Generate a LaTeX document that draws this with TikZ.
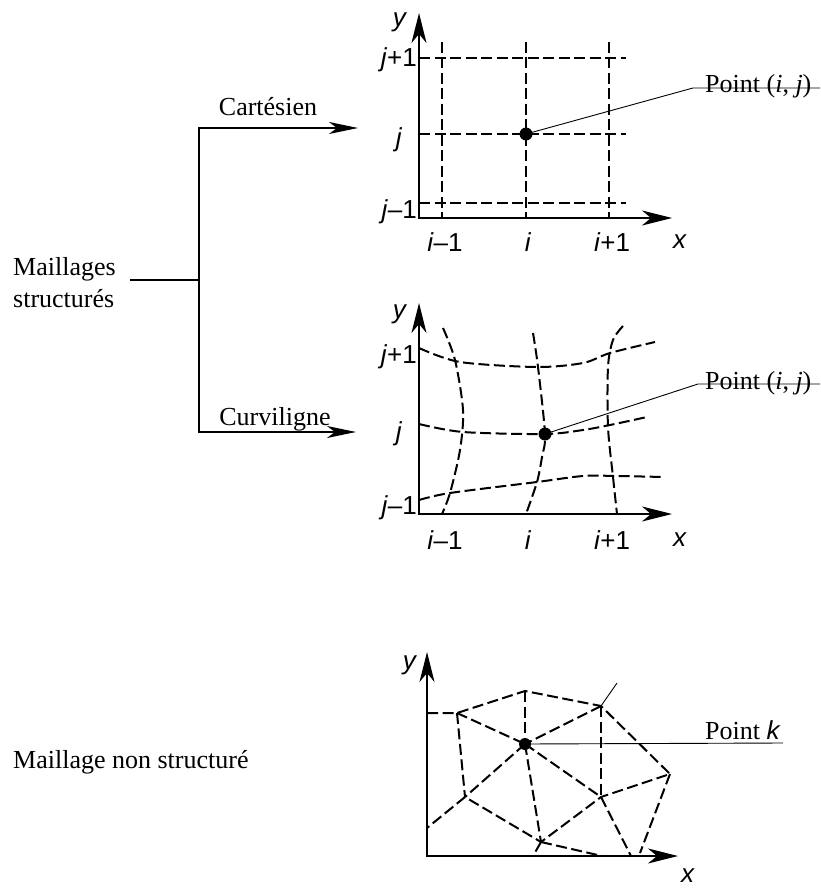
\documentclass[tikz,border=0pt]{standalone}
\usepackage{fontspec}
\setmainfont{Liberation Serif}
\newfontfamily\lsans{Liberation Sans}
\usetikzlibrary{arrows.meta}
\begin{document}
\begin{tikzpicture}[x=1pt,y=-1pt,
  txt/.style={font=\fontsize{26}{32}\selectfont, inner sep=0pt},
  lab/.style={font=\lsans\fontsize{26}{30}\selectfont, inner sep=0pt},
  axes/.style={line width=1.4pt, {Stealth[length=30pt,width=15pt,inset=9pt]}-{Stealth[length=30pt,width=15pt,inset=9pt]}},
  mesh/.style={line width=2pt, dash pattern=on 11pt off 4.5pt},
  lead/.style={line width=0.9pt},
  branch/.style={line width=1.3pt},
  barrow/.style={line width=1.3pt, -{Stealth[length=29pt,width=12pt,inset=8pt]}},
  dot/.style={circle, fill=black, inner sep=0pt, minimum size=13pt},
]
\useasboundingbox (0,0) rectangle (820,890);

% ---------- left texts and branches ----------
\node[txt, anchor=west, align=left] (maill) at (13,283) {Maillages\\structurés};
\coordinate (m0) at (130,280);
\coordinate (bv) at (199,280);
\coordinate (bt) at (199,128);
\coordinate (bb) at (199,432);
\coordinate (cartend) at (358,128);
\coordinate (curvend) at (356,432);
\draw[branch] (m0) -- (bv);
\draw[barrow] (bv) -- (bt) -- (cartend);
\draw[barrow] (bv) -- (bb) -- (curvend);
\node[txt, anchor=base] (cart) at (268,116) {Cartésien};
\node[txt, anchor=base] (curv) at (275,425) {Curviligne};
\node[txt, anchor=base west] (nonstr) at (13,768) {Maillage non structuré};

% ---------- Cartesian ----------
\coordinate (c0) at (419,218);
\coordinate (cy) at (419,13);
\coordinate (cx) at (672,218);
\draw[axes] (cy) -- (c0) -- (cx);
\foreach \xx in {442,526,609} \draw[mesh] (\xx,42) -- (\xx,218);
\foreach \yy in {58,134,203} \draw[mesh] (419,\yy) -- (626,\yy);
\node[dot] (cdot) at (526,134) {};
\node[txt, anchor=base west] (cpt) at (705,93) {Point (\textit{i}, \textit{j})};
\coordinate (cl1) at (693,88);
\coordinate (cl2) at (820,88);
\draw[lead] (cdot.center) -- (cl1) -- (cl2);
\node[lab, anchor=east] (cj1) at (417,60) {\textit{j}+1};
\node[lab] (cj) at (399,140) {\textit{j}};
\node[lab, anchor=east] (cjm) at (417,212) {\textit{j}–1};
\node[lab] (ci1) at (445,242) {\textit{i}–1};
\node[lab] (ci) at (528,242) {\textit{i}};
\node[lab] (cip) at (612,242) {\textit{i}+1};
\node[lab] (cxl) at (680,242) {\textit{x}};
\node[lab] (cyl) at (400,22) {\textit{y}};

% ---------- Curvilinear ----------
\coordinate (v0) at (419,514);
\coordinate (vy) at (419,303);
\coordinate (vx) at (672,514);
\draw[axes] (vy) -- (v0) -- (vx);
\draw[mesh] plot[smooth] coordinates {(419,348) (460,362) (537,367) (583,363) (610,353) (655,342)};
\draw[mesh] plot[smooth] coordinates {(419,424) (463,432) (545,434) (583,430) (610,425) (647,417)};
\draw[mesh] plot[smooth] coordinates {(419,500) (450,493) (537,482) (583,476) (617,476) (663,477)};
\draw[mesh] plot[smooth] coordinates {(443,328) (455,360) (463,410) (460,450) (450,493) (442,514)};
\draw[mesh] plot[smooth] coordinates {(533,333) (538,367) (545,434) (542,457) (537,482) (526,514)};
\draw[mesh] plot[smooth] coordinates {(623,326) (613,340) (608,367) (608,427) (613,477) (617,514)};
\node[dot] (vdot) at (545,434) {};
\node[txt, anchor=base west] (vpt) at (705,389) {Point (\textit{i}, \textit{j})};
\coordinate (vl1) at (698,384);
\coordinate (vl2) at (820,384);
\draw[lead] (vdot.center) -- (vl1) -- (vl2);
\node[lab, anchor=east] (vj1) at (417,357) {\textit{j}+1};
\node[lab] (vj) at (399,434) {\textit{j}};
\node[lab, anchor=east] (vjm) at (417,508) {\textit{j}–1};
\node[lab] (vi1) at (445,540) {\textit{i}–1};
\node[lab] (vi) at (528,540) {\textit{i}};
\node[lab] (vip) at (612,540) {\textit{i}+1};
\node[lab] (vxl) at (680,540) {\textit{x}};
\node[lab] (vyl) at (400,314) {\textit{y}};

% ---------- Unstructured ----------
\coordinate (u0) at (427,856);
\coordinate (uy) at (427,652);
\coordinate (ux) at (678,856);
\draw[axes] (uy) -- (u0) -- (ux);
\coordinate (A) at (427,713);
\coordinate (B) at (457,713);
\coordinate (C) at (525,691);
\coordinate (D) at (601,706);
\coordinate (E) at (670,774);
\coordinate (F) at (601,797);
\coordinate (G) at (465,797);
\coordinate (H) at (541,842);
\coordinate (L) at (427,828);
\coordinate (P1) at (533,856);
\coordinate (P2) at (602,856);
\coordinate (P3) at (631,856);
\coordinate (P4) at (640,853);
\coordinate (T) at (617,683);
\node[dot, minimum size=12pt] (K) at (525,744) {};
\draw[mesh] (A) -- (B) -- (C) -- (D) -- (E) -- (F) -- (H) -- (G) -- (L);
\draw[mesh] (B) -- (G);
\draw[mesh] (C) -- (K.center);
\draw[mesh] (B) -- (K.center);
\draw[mesh] (D) -- (K.center);
\draw[mesh] (D) -- (F);
\draw[mesh] (E) -- (P4);
\draw[mesh] (K.center) -- (G);
\draw[mesh] (K.center) -- (F);
\draw[mesh] (K.center) -- (H);
\draw[mesh] (H) -- (P1);
\draw[mesh] (H) -- (P2);
\draw[mesh] (F) -- (P3);
\draw[lead] (D) -- (T);
\coordinate (kl) at (783,743);
\draw[lead] (K.center) -- (kl);
\node[txt, anchor=base west] (ptk) at (705,739) {Point {\lsans\itshape k}};
\node[lab] (uxl) at (688,876) {\textit{x}};
\node[lab] (uyl) at (410,665) {\textit{y}};
\end{tikzpicture}
\end{document}
